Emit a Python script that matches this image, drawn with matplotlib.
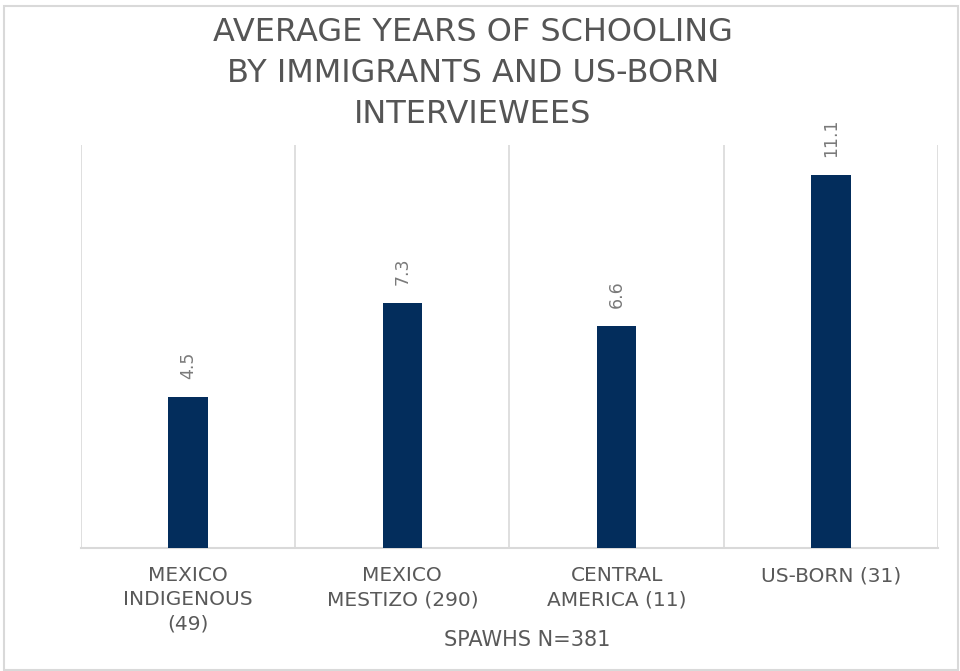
import matplotlib.pyplot as plt
from matplotlib.patches import Rectangle

categories = ['MEXICO\nINDIGENOUS\n(49)', 'MEXICO\nMESTIZO (290)', 'CENTRAL\nAMERICA (11)', 'US-BORN (31)']
years = [4.5, 7.3, 6.6, 11.1]

gray = '#595959'
navy = '#032d5c'

fig = plt.figure(figsize=(9.6, 6.71), dpi=100)
ax = fig.add_axes([0.0844, 0.1833, 0.8926, 0.6006])

x = range(len(categories))
bars = ax.bar(x, years, width=0.185, color=navy, zorder=3)

# value labels, rotated like the original
for b, v in zip(bars, years):
    ax.annotate('%.1f' % v, (b.get_x() + b.get_width() / 2, v),
                xytext=(0, 13), textcoords='offset points',
                rotation=90, ha='center', va='bottom',
                fontsize=12.5, color='#7a7a7a')

ax.set_xlim(-0.5, len(categories) - 0.5)
ax.set_ylim(0, 12)

# vertical gridlines between categories
for i in range(len(categories) + 1):
    ax.axvline(i - 0.5, color='#d9d9d9', lw=1.2, zorder=1)

for s in ['top', 'left', 'right']:
    ax.spines[s].set_visible(False)
ax.spines['bottom'].set_color('#d9d9d9')
ax.spines['bottom'].set_linewidth(1.5)
ax.set_yticks([])
ax.set_xticks(list(x))
ax.set_xticklabels(categories, fontsize=14.5, color=gray, linespacing=1.35)
ax.tick_params(axis='x', length=0, pad=13)

fig.text(527 / 960, 1 - 640 / 671, 'SPAWHS N=381', ha='center', va='center',
         fontsize=15, color=gray)

fig.text(473 / 960, 1 - 17 / 671,
         'AVERAGE YEARS OF SCHOOLING\nBY IMMIGRANTS AND US-BORN\nINTERVIEWEES',
         ha='center', va='top', fontsize=23,
         color='#555555', linespacing=1.42)

fig.patches.append(Rectangle((4 / 960, 1 / 671), 954 / 960, 664 / 671,
                             transform=fig.transFigure, fill=False,
                             edgecolor='#d9d9d9', lw=1.5))

fig.savefig('out.png', dpi=100)
